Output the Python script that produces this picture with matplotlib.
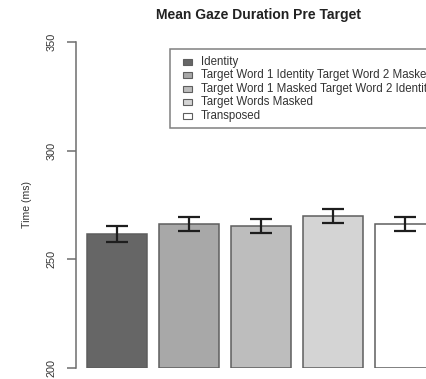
import matplotlib
matplotlib.use("Agg")
import matplotlib.pyplot as plt
from matplotlib.patches import Rectangle

plt.rcParams['font.family'] = ['Liberation Sans', 'DejaVu Sans']

conditions = [
    "Identity",
    "Target Word 1 Identity Target Word 2 Masked",
    "Target Word 1 Masked Target Word 2 Identity",
    "Target Words Masked",
    "Transposed",
]
mean_gaze = [261.7, 266.1, 265.2, 269.9, 266.1]
sem_gaze = [3.5, 3.2, 3.3, 3.2, 3.2]
bar_colors = ["#666666", "#a8a8a8", "#bdbdbd", "#d4d4d4", "#ffffff"]
y_ticks = [200, 250, 300, 350]

W, H = 426, 379


def fx(px):
    return px / W


def fy(py):
    return 1 - py / H


# bar centres in barplot units (width 1, space 0.2)
positions = [0.7 + 1.2 * i for i in range(len(mean_gaze))]

fig = plt.figure(figsize=(W / 100, H / 100), dpi=100)
ax = fig.add_axes([fx(76), 11 / H, 350 / W, 326 / H])

ax.bar(positions, [m - 200 for m in mean_gaze], bottom=200, width=1.0,
       color=bar_colors, edgecolor="#5e5e5e", linewidth=1.1)
ax.errorbar(positions, mean_gaze, yerr=sem_gaze, fmt="none",
            ecolor="#1e1e1e", elinewidth=1.6, capsize=8, capthick=1.6)

ax.set_xlim(0.0167, 5.85)
ax.set_ylim(200, 350)
ax.set_xticks([])
ax.set_yticks(y_ticks)
ax.set_yticklabels([str(t) for t in y_ticks], rotation=90, va="center",
                   fontsize=7.8, color="#333333")
ax.tick_params(axis="y", length=6.5, width=1.1, color="#6e6e6e", pad=7.5)

for side in ["top", "right", "bottom"]:
    ax.spines[side].set_visible(False)
ax.spines["left"].set_bounds(200, 350)
ax.spines["left"].set_color("#6e6e6e")
ax.spines["left"].set_linewidth(1.1)

fig.text(fx(27), fy(205), "Time (ms)", rotation=90,
         ha="center", va="center", fontsize=7.6, color="#333333")
fig.text(fx(258), fy(15), "Mean Gaze Duration Pre Target",
         ha="center", va="center", fontsize=10, fontweight="bold",
         color="#222222")

# legend box in the R style, running off the right edge
fig.add_artist(Rectangle((fx(170), fy(128)), fx(300), 79 / H,
                         transform=fig.transFigure, facecolor="white",
                         edgecolor="#808080", linewidth=1.1))
for i, (label, colour) in enumerate(zip(conditions, bar_colors)):
    row = 61.5 + 13.6 * i
    fig.add_artist(Rectangle((fx(183), fy(row + 3)), 9 / W, 6 / H,
                             transform=fig.transFigure, facecolor=colour,
                             edgecolor="#5e5e5e", linewidth=0.8))
    fig.text(fx(201), fy(row), label, ha="left", va="center",
             fontsize=8.3, color="#333333")

fig.savefig("out.png", dpi=100)
